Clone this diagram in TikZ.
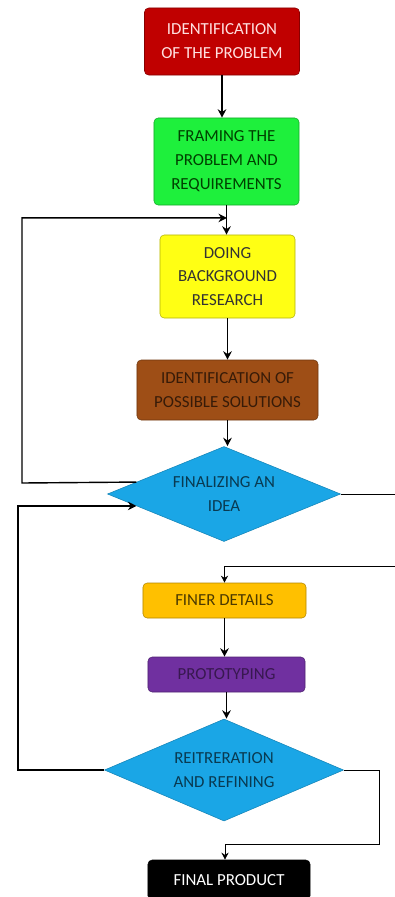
\documentclass[tikz,border=0pt]{standalone}
\usepackage{fontspec}
\setmainfont{Carlito}
\usepackage{tikz}
\usetikzlibrary{shapes.geometric, arrows, arrows.meta, calc}
\definecolor{probred}{HTML}{C00000}
\definecolor{framegreen}{HTML}{1EF03C}
\definecolor{researchyellow}{HTML}{FFFF14}
\definecolor{solbrown}{HTML}{9E4E16}
\definecolor{ideablue}{HTML}{1AA6E6}
\definecolor{finerorange}{HTML}{FFC000}
\definecolor{protopurple}{HTML}{7030A0}

\begin{document}
\begin{tikzpicture}[
    x=0.025cm, y=-0.025cm,
    phase/.style={rectangle, draw, rounded corners=3pt, align=center, inner sep=1pt, font=\fontsize{12}{17}\selectfont},
    decision/.style={diamond, aspect=2.45, draw=ideablue!80!black, fill=ideablue, text=ideablue!35!black, align=center, inner sep=0pt, font=\fontsize{12}{17}\selectfont},
    arrow/.style={-{Stealth[length=6pt, width=6pt]}, line width=1.4pt},
    back/.style={-{Stealth[length=6pt, width=6pt]}, line width=1pt},
    side/.style={-{Stealth[length=5pt, width=5pt]}, line width=0.6pt}
]
\useasboundingbox (0,0) rectangle (395,897);

\node[phase, fill=probred, draw=probred!70!black, text=red!12, minimum width=3.875cm, minimum height=1.675cm] (prob) at (222,41.5) {IDENTIFICATION\\OF THE PROBLEM};
\node[phase, fill=framegreen, draw=framegreen!70!black, text=green!25!black, minimum width=3.625cm, minimum height=2.175cm] (frame) at (226.5,161.5) {FRAMING THE\\PROBLEM AND\\REQUIREMENTS};
\node[phase, fill=researchyellow, draw=researchyellow!70!black, text=black!80, minimum width=3.375cm, minimum height=2.075cm] (research) at (227.5,276.5) {DOING\\BACKGROUND\\RESEARCH};
\node[phase, fill=solbrown, draw=solbrown!70!black, text=solbrown!35!black, minimum width=4.525cm, minimum height=1.5cm] (sol) at (227.5,390) {IDENTIFICATION OF\\POSSIBLE SOLUTIONS};
\node[decision, minimum width=5.825cm, minimum height=2.375cm] (idea) at (224,494) {FINALIZING AN\\IDEA};
\node[phase, fill=finerorange, draw=finerorange!70!black, text=finerorange!30!black, minimum width=4.075cm, minimum height=0.875cm] (finer) at (224.5,600.5) {FINER DETAILS};
\node[phase, fill=protopurple, draw=protopurple!70!black, text=protopurple!50!black, minimum width=3.925cm, minimum height=0.875cm] (proto) at (226.5,674.5) {PROTOTYPING};
\node[decision, minimum width=5.975cm, minimum height=2.55cm] (refine) at (224,770) {REITRERATION\\AND REFINING};
\node[phase, fill=black, text=white, minimum width=4.05cm, minimum height=1cm] (final) at (229,880) {FINAL PRODUCT};

\coordinate (j1) at ($(frame.south)!0.43!(research.north)$);
\coordinate (j2) at ($(finer.north)+(0,-16)$);
\coordinate (j3) at ($(final.north)+(-4,-15)$);

\draw[arrow] (prob.south) -- (prob.south |- frame.north);
\draw[arrow] (frame.south) -- (frame.south |- research.north);
\draw[arrow] (research.south) -- (research.south |- sol.north);
\draw[arrow] (sol.south) -- (sol.south |- idea.north);
\draw[arrow] (finer.south) -- (finer.south |- proto.north);
\draw[arrow] (proto.south) -- (proto.south |- refine.north);

\draw[back] ($(idea.west)!0.25!(idea.north)$) -- (22,483) |- (j1);
\draw[arrow] (refine.west) -- ++(-86,0) |- ($(idea.west)!0.25!(idea.south)$);
\draw[side] (idea.east) -- ++(62,0) |- (j2) -- (j2 |- finer.north);
\draw[side] (refine.east) -- ++(36,0) |- (j3) -- (j3 |- final.north);

\end{tikzpicture}
\end{document}
